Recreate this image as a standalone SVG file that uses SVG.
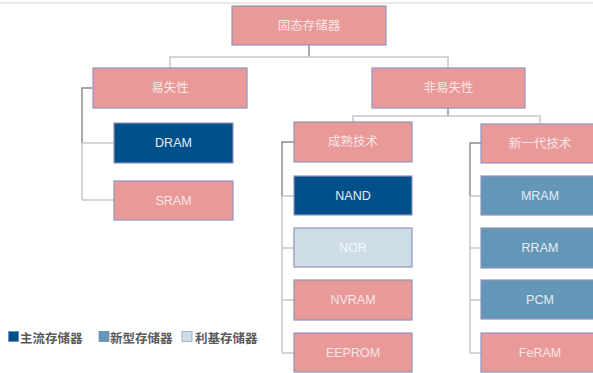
<svg xmlns="http://www.w3.org/2000/svg" width="593" height="373" viewBox="0 0 593 373">
<style>
.box{stroke:#8f94bd;stroke-width:1.2}
.pink{fill:#ea9999}
.dark{fill:#02508a}
.mid{fill:#6497b7}
.light{fill:#cddde8}
.t{font-family:"Liberation Sans","Noto Sans CJK SC",sans-serif;font-size:12.5px;text-anchor:middle;dominant-baseline:central}
.tp{fill:#f7e6e6}
.tb{fill:#e4ecf4}
.tl{fill:#f2f6f9}
.cd{stroke:#8c8c8c;stroke-width:1.5;fill:none}
.cl{stroke:#c8c8c8;stroke-width:1.5;fill:none}
.lg{font-family:"Noto Sans CJK SC","Liberation Sans",sans-serif;font-size:12.5px;fill:#5a5a5a;font-weight:bold;dominant-baseline:central}
</style>
<rect x="0" y="0" width="593" height="373" fill="#ffffff"/>
<line x1="0" y1="3" x2="593" y2="3" stroke="#e4e4e4" stroke-width="1.5"/>
<g id="connectors">
<path class="cd" d="M309 45V57"/>
<path class="cl" d="M170 68V57H448V68"/>
<path class="cd" d="M448 108V116"/>
<path class="cl" d="M353 122V116H540V124"/>
<path class="cd" d="M93 88H82V143"/>
<path class="cl" d="M82 143V200M82 143H114M82 200H114"/>
<path class="cd" d="M294 142H282V196"/>
<path class="cl" d="M282 196V353M282 196H294M282 248H294M282 300H294M282 353H294"/>
<path class="cd" d="M481 143H470V196"/>
<path class="cl" d="M470 196V353M470 196H481M470 248H481M470 300H481M470 353H481"/>
</g>
<g id="root"><rect class="box pink" x="232" y="6" width="154" height="39"/><text class="t tp" x="309" y="26">固态存储器</text></g>
<g id="volatile"><rect class="box pink" x="93" y="68" width="154" height="40"/><text class="t tp" x="170" y="88">易失性</text></g>
<g id="nonvolatile"><rect class="box pink" x="372" y="68" width="153" height="40"/><text class="t tp" x="448.5" y="88">非易失性</text></g>
<g id="dram"><rect class="box dark" x="114" y="123" width="119" height="40"/><text class="t tb" x="173.5" y="143">DRAM</text></g>
<g id="sram"><rect class="box pink" x="114" y="181" width="119" height="39"/><text class="t tp" x="173.5" y="200.5">SRAM</text></g>
<g id="mature"><rect class="box pink" x="294" y="122" width="118" height="40"/><text class="t tp" x="353" y="142">成熟技术</text></g>
<g id="nand"><rect class="box dark" x="294" y="176" width="118" height="39"/><text class="t tb" x="353" y="196">NAND</text></g>
<g id="nor"><rect class="box light" x="294" y="228" width="118" height="39"/><text class="t tl" x="353" y="248">NOR</text></g>
<g id="nvram"><rect class="box pink" x="294" y="280" width="118" height="40"/><text class="t tp" x="353" y="300">NVRAM</text></g>
<g id="eeprom"><rect class="box pink" x="294" y="333" width="118" height="39"/><text class="t tp" x="353" y="353">EEPROM</text></g>
<g id="newgen"><rect class="box pink" x="481" y="124" width="118" height="39"/><text class="t tp" x="540" y="144">新一代技术</text></g>
<g id="mram"><rect class="box mid" x="481" y="176" width="118" height="39"/><text class="t tb" x="540" y="196">MRAM</text></g>
<g id="rram"><rect class="box mid" x="481" y="228" width="118" height="40"/><text class="t tb" x="540" y="248">RRAM</text></g>
<g id="pcm"><rect class="box mid" x="481" y="280" width="118" height="39"/><text class="t tb" x="540" y="300">PCM</text></g>
<g id="feram"><rect class="box pink" x="481" y="333" width="118" height="39"/><text class="t tp" x="540" y="353">FeRAM</text></g>
<g id="legend">
<rect x="8.5" y="331.5" width="10" height="10" fill="#02508a" stroke="#6d8cbf" stroke-width="0.8"/>
<text class="lg" x="20" y="337">主流存储器</text>
<rect x="99" y="331.5" width="10" height="10" fill="#6497b7" stroke="#6d8cbf" stroke-width="0.8"/>
<text class="lg" x="110" y="337">新型存储器</text>
<rect x="182" y="331.5" width="10" height="10" fill="#cddde8" stroke="#8fa6c8" stroke-width="0.8"/>
<text class="lg" x="195" y="337">利基存储器</text>
</g>
</svg>
